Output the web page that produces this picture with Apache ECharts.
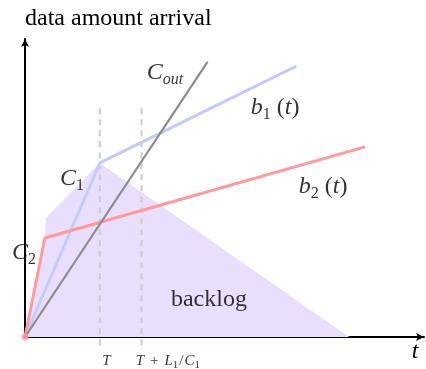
<!DOCTYPE html>
<html>
<head>
<meta charset="utf-8">
<script src="https://cdn.jsdelivr.net/npm/echarts@6/dist/echarts.min.js"></script>
<style>
  html, body { margin: 0; padding: 0; background: #fff; }
  #chart { width: 426px; height: 369px; }
</style>
</head>
<body>
<div id="chart"></div>
<script>
// time runs 0..100 on x, data amount 0..100 on y
const cOut = [[0, 0], [45.75, 92.3]]
const b1 = [[0, 0], [18.75, 58.4], [68, 90.9]]
const b2 = [[0, 0], [5, 33.2], [85.25, 63.8]]
const backlog = [[0, 0], [5, 33.2], [5.25, 39.9], [18.75, 58.4], [81.25, 0]]
const guideT = [[18.75, 76.8], [18.75, -3.4]]
const guideTL = [[29.2, 76.8], [29.2, -3.4]]

const noteText = [
    '{m|C}{so|out}',
    '{m|b}{s|1}{r| (}{m|t}{r|)}',
    '{m|b}{s|2}{r| (}{m|t}{r|)}',
    '{m|C}{s|1}',
    '{m|C}{s|2}',
    '{r|backlog}',
    '{tm|T}',
    '{tm|T}{tp|+}{tm|L}{ts|1}{tq|/}{tm|C}{ts|1}'
]
const noteAt = [
    [35.1, 88.6],
    [62.7, 76.8],
    [74.7, 50.3],
    [11.8, 53.0],
    [-0.25, 28.2],
    [46.1, 12.4],
    [20.4, -8.1],
    [35.8, -8.1]
]

const serif = '"Liberation Serif", "DejaVu Serif", serif'

const chart = echarts.init(document.getElementById('chart'))

const option = {
    animation: false,
    grid: { left: 25, right: 2, top: 39, bottom: 32 },
    xAxis: {
        type: 'value',
        min: 0,
        max: 100,
        name: 't',
        nameLocation: 'end',
        nameGap: -9,
        nameTextStyle: {
            fontFamily: serif,
            fontStyle: 'italic',
            fontSize: 24,
            color: '#000',
            align: 'center',
            verticalAlign: 'top',
            padding: [3, 0, 0, 0]
        },
        axisLine: {
            onZero: false,
            symbol: ['none', 'arrow'],
            symbolSize: [6, 8],
            lineStyle: { color: '#000', width: 2 }
        },
        axisTick: { show: false },
        axisLabel: { show: false },
        splitLine: { show: false }
    },
    yAxis: {
        type: 'value',
        min: 0,
        max: 100,
        name: 'data amount arrival',
        nameLocation: 'end',
        nameGap: 8,
        nameTextStyle: {
            fontFamily: serif,
            fontSize: 24,
            color: '#000',
            align: 'left'
        },
        axisLine: {
            onZero: false,
            symbol: ['none', 'arrow'],
            symbolSize: [6, 8],
            lineStyle: { color: '#000', width: 2 }
        },
        axisTick: { show: false },
        axisLabel: { show: false },
        splitLine: { show: false }
    },
    series: [
        {
            name: 'backlog',
            type: 'line',
            data: backlog,
            symbol: 'none',
            lineStyle: { width: 0 },
            areaStyle: { color: '#eadefd', opacity: 1 },
            z: 1
        },
        {
            type: 'line',
            data: guideT,
            symbol: 'none',
            clip: false,
            lineStyle: { color: '#cccccc', width: 2, type: [6, 5] },
            z: 2
        },
        {
            type: 'line',
            data: guideTL,
            symbol: 'none',
            clip: false,
            lineStyle: { color: '#cccccc', width: 2, type: [6, 5] },
            z: 2
        },
        {
            name: 'b1',
            type: 'line',
            data: b1,
            symbol: 'none',
            lineStyle: { color: '#c6c9ff', width: 3 },
            z: 3
        },
        {
            name: 'b2',
            type: 'line',
            data: b2,
            symbol: 'none',
            lineStyle: { color: '#ff9a9a', width: 3 },
            z: 4
        },
        {
            name: 'Cout',
            type: 'line',
            data: cOut,
            symbol: 'none',
            lineStyle: { color: '#8c8c8c', width: 2.2 },
            z: 5
        },
        {
            type: 'scatter',
            data: [[0, 0]],
            symbolSize: 7,
            clip: false,
            itemStyle: { color: '#ff9a9a' },
            z: 6
        },
        {
            type: 'scatter',
            clip: false,
            symbolSize: 0,
            data: noteText.map((t, i) => ({
                value: noteAt[i],
                label: { formatter: t }
            })),
            label: {
                show: true,
                position: 'inside',
                color: '#000',
                rich: {
                    m: { fontFamily: serif, fontStyle: 'italic', fontSize: 24, lineHeight: 30, verticalAlign: 'middle' },
                    r: { fontFamily: serif, fontSize: 24, lineHeight: 30, verticalAlign: 'middle' },
                    s: { fontFamily: serif, fontSize: 16, lineHeight: 16, verticalAlign: 'bottom' },
                    so: { fontFamily: serif, fontStyle: 'italic', fontSize: 16, lineHeight: 16, verticalAlign: 'bottom' },
                    tm: { fontFamily: serif, fontStyle: 'italic', fontSize: 15, lineHeight: 19, verticalAlign: 'middle' },
                    tp: { fontFamily: serif, fontSize: 15, lineHeight: 19, verticalAlign: 'middle', padding: [0, 6, 0, 6] },
                    tq: { fontFamily: serif, fontSize: 15, lineHeight: 19, verticalAlign: 'middle', padding: [0, 1, 0, 1] },
                    ts: { fontFamily: serif, fontSize: 11, lineHeight: 12, verticalAlign: 'bottom' }
                }
            },
            z: 7
        }
    ]
}

chart.setOption(option)
window.addEventListener('resize', () => chart.resize())
</script>
</body>
</html>
